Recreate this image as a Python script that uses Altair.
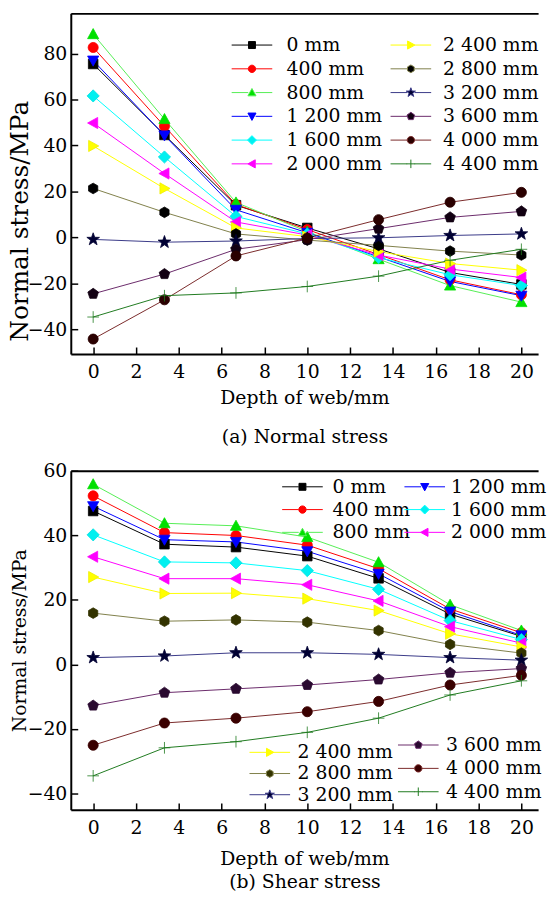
import math
import altair as alt
import pandas as pd

# ---------------- data ----------------
depth = [0, 3.33, 6.67, 10, 13.33, 16.67, 20]
series = ["0 mm", "400 mm", "800 mm", "1 200 mm", "1 600 mm", "2 000 mm",
          "2 400 mm", "2 800 mm", "3 200 mm", "3 600 mm", "4 000 mm", "4 400 mm"]

# (a) normal stress
normal_0 = [75.5, 44.6, 14.0, 4.1, -5.0, -15.3, -20.5]
normal_400 = [82.7, 48.4, 14.3, 3.4, -7.5, -18.5, -25.0]
normal_800 = [88.5, 51.5, 15.2, 2.5, -9.5, -21.0, -28.2]
normal_1200 = [77.0, 44.4, 12.0, 2.0, -8.5, -19.2, -25.4]
normal_1600 = [61.6, 35.0, 9.1, 1.5, -8.8, -16.3, -21.0]
normal_2000 = [49.8, 27.8, 6.7, 1.0, -7.7, -13.8, -17.5]
normal_2400 = [39.8, 21.3, 4.1, 0.3, -6.2, -11.4, -14.3]
normal_2800 = [21.3, 10.9, 1.5, -1.2, -3.5, -6.0, -7.7]
normal_3200 = [-0.9, -2.1, -1.6, -0.5, -0.2, 0.8, 1.5]
normal_3600 = [-24.6, -16.0, -5.2, -1.0, 3.8, 8.7, 11.3]
normal_4000 = [-44.3, -27.2, -8.1, -0.3, 7.7, 15.3, 19.6]
normal_4400 = [-34.7, -25.4, -24.2, -21.4, -16.9, -10.0, -5.2]

# (b) shear stress
shear_0 = [47.6, 37.3, 36.4, 33.6, 26.7, 15.6, 8.7]
shear_400 = [52.3, 40.9, 40.0, 37.0, 29.7, 17.2, 9.8]
shear_800 = [55.9, 43.8, 43.0, 39.5, 31.7, 18.5, 10.5]
shear_1200 = [49.1, 38.7, 38.0, 35.1, 28.1, 16.4, 9.0]
shear_1600 = [40.2, 31.8, 31.5, 29.1, 23.3, 13.6, 7.7]
shear_2000 = [33.4, 26.6, 26.6, 24.7, 19.7, 11.7, 6.6]
shear_2400 = [27.1, 22.0, 22.1, 20.4, 16.7, 9.5, 5.4]
shear_2800 = [15.9, 13.4, 13.8, 13.1, 10.5, 6.2, 3.5]
shear_3200 = [2.1, 2.6, 3.6, 3.6, 3.1, 2.1, 1.3]
shear_3600 = [-12.8, -8.8, -7.6, -6.4, -4.7, -2.6, -1.3]
shear_4000 = [-25.1, -18.2, -16.7, -14.7, -11.5, -6.4, -3.4]
shear_4400 = [-34.6, -25.9, -24.0, -21.1, -16.7, -9.5, -5.1]

normal_lists = [normal_0, normal_400, normal_800, normal_1200, normal_1600, normal_2000,
                normal_2400, normal_2800, normal_3200, normal_3600, normal_4000, normal_4400]
shear_lists = [shear_0, shear_400, shear_800, shear_1200, shear_1600, shear_2000,
               shear_2400, shear_2800, shear_3200, shear_3600, shear_4000, shear_4400]

x_ticks = list(range(0, 21, 2))

# ---------------- styles ----------------
line_colors = ["#000000", "#ff0000", "#55ee55", "#0000ff", "#00ffff", "#ff00ff",
               "#ffff00", "#80804a", "#3a3a88", "#6a2a6a", "#7a2a2a", "#1f7a1f"]
fill_top = ["#000000", "#ff0000", "#00e000", "#0000ff", "#00f0f0", "#ff00ff",
            "#ffff00", "#000000", "#000033", "#120012", "#2a0000", "#1f7a1f"]
fill_bot = ["#000000", "#ff0000", "#00e000", "#0000ff", "#00f0f0", "#ff00ff",
            "#ffff00", "#333300", "#000033", "#2a0a30", "#3a0000", "#1f7a1f"]
stroke_top = ["#000000", "#ff0000", "#00e000", "#0000ff", "#00e0e0", "#ff00ff",
              "#eeee00", "#000000", "#000033", "#120012", "#2a0000", "#1f7a1f"]
stroke_bot = ["#000000", "#ff0000", "#00e000", "#0000ff", "#00e0e0", "#ff00ff",
              "#eeee00", "#333300", "#000033", "#2a0a30", "#3a0000", "#1f7a1f"]


def poly(pts, k):
    return "M" + "L".join(f"{x * k:.3f},{y * k:.3f}" for x, y in pts) + "Z"


def circle(r):
    return (f"M{-r:.3f},0A{r:.3f},{r:.3f},0,1,0,{r:.3f},0"
            f"A{r:.3f},{r:.3f},0,1,0,{-r:.3f},0Z")


def regular(n, r, rot=-90):
    return [(r * math.cos(math.radians(rot + i * 360 / n)),
             r * math.sin(math.radians(rot + i * 360 / n))) for i in range(n)]


def star(ro, ri):
    pts = []
    for i in range(10):
        r = ro if i % 2 == 0 else ri
        a = math.radians(-90 + i * 36)
        pts.append((r * math.cos(a), r * math.sin(a)))
    return pts


shape_makers = [
    lambda k: poly([(-0.9, -0.9), (0.9, -0.9), (0.9, 0.9), (-0.9, 0.9)], k),
    lambda k: circle(0.95 * k),
    lambda k: poly([(0, -1.05), (1.05, 0.85), (-1.05, 0.85)], k),
    lambda k: poly([(0, 1.05), (1.05, -0.85), (-1.05, -0.85)], k),
    lambda k: poly([(0, -1.15), (1.15, 0), (0, 1.15), (-1.15, 0)], k),
    lambda k: poly([(-1.05, 0), (0.85, -1.05), (0.85, 1.05)], k),
    lambda k: poly([(1.05, 0), (-0.85, -1.05), (-0.85, 1.05)], k),
    lambda k: poly(regular(6, 1.0), k),
    lambda k: poly(star(1.25, 0.5), k),
    lambda k: poly(regular(5, 1.05), k),
    lambda k: circle(0.95 * k),
    lambda k: f"M{-1.1 * k:.3f},0H{1.1 * k:.3f}M0,{-1.1 * k:.3f}V{1.1 * k:.3f}",
]
plot_shapes = [m(1.0) for m in shape_makers]
legend_shapes = [m(0.78) + "M-4.1,0H-0.75M0.75,0H4.1" for m in shape_makers]

FONT = "DejaVu Serif"
X_DOMAIN = [-1.045, 20.78]
WIDTH = 472


def make_df(lists):
    rows = []
    for name, vals in zip(series, lists):
        for d, v in zip(depth, vals):
            rows.append({"depth": d, "value": v, "series": name})
    return pd.DataFrame(rows)


def panel(lists, height, ydomain, yticks, ytitle, ytitle_size, ytitle_y,
          xtitle, xtitle_y, line_h, fills, strokes, legends):
    df = make_df(lists)
    xs = alt.Scale(domain=X_DOMAIN, nice=False, zero=False)
    ys = alt.Scale(domain=ydomain, nice=False, zero=False)

    x_main = alt.Axis(values=x_ticks, ticks=False, tickSize=0, domain=True,
                      domainWidth=2, labelFontSize=19, labelPadding=9,
                      labelFlush=False, labelOverlap=False, grid=False,
                      title=xtitle, titleFontSize=19, titleLineHeight=line_h,
                      titleBaseline="alphabetic", titleY=xtitle_y)
    y_main = alt.Axis(values=yticks, ticks=False, tickSize=0, domain=True,
                      domainWidth=2, labelFontSize=19, labelPadding=4,
                      labelFlush=False, labelOverlap=False, grid=False,
                      title=ytitle, titleFontSize=ytitle_size,
                      titleBaseline="middle", titleAlign="center",
                      titleX=-52, titleY=ytitle_y, titleAngle=270)
    x_ticks_ax = alt.Axis(orient="bottom", values=x_ticks, offset=-7, tickSize=7,
                          tickWidth=1.5, domain=False, labels=False, title=None,
                          grid=False)
    y_ticks_ax = alt.Axis(orient="left", values=yticks, offset=-7, tickSize=7,
                          tickWidth=1.5, domain=False, labels=False, title=None,
                          grid=False)
    x_top_ax = alt.Axis(orient="top", domain=True, domainWidth=2, ticks=False,
                        labels=False, title=None, grid=False)

    lines = alt.Chart(df).mark_line(strokeWidth=1).encode(
        x=alt.X("depth:Q", scale=xs, axis=x_main),
        y=alt.Y("value:Q", scale=ys, axis=y_main),
        color=alt.Color("series:N", scale=alt.Scale(domain=series, range=line_colors),
                        legend=None),
    )
    points = alt.Chart(df).mark_point(filled=True, size=115, opacity=1,
                                      strokeWidth=0.8).encode(
        x=alt.X("depth:Q", scale=xs, axis=x_ticks_ax),
        y=alt.Y("value:Q", scale=ys, axis=y_ticks_ax),
        shape=alt.Shape("series:N", scale=alt.Scale(domain=series, range=plot_shapes),
                        legend=None),
        fill=alt.Fill("series:N", scale=alt.Scale(domain=series, range=fills),
                      legend=None),
        stroke=alt.Stroke("series:N", scale=alt.Scale(domain=series, range=strokes),
                          legend=None),
    )
    layers = [lines, points]
    for i, (lo, hi, lx, ly, loff, rpad) in enumerate(legends):
        names = series[lo:hi]
        leg = alt.Legend(orient="none", legendX=lx, legendY=ly, title=None,
                         labelFont=FONT, labelFontSize=19, labelColor="black",
                         labelOffset=loff, rowPadding=rpad, symbolSize=100,
                         symbolStrokeWidth=1, padding=0, labelLimit=0,
                         direction="vertical")
        layer = alt.Chart(df).mark_point(filled=True, size=100, opacity=1,
                                         strokeWidth=1).encode(
            x=alt.X("depth:Q", scale=xs, axis=(x_top_ax if i == 0 else None)),
            y=alt.Y("value:Q", scale=ys, axis=None),
            shape=alt.Shape("series:N", scale=alt.Scale(domain=names,
                                                        range=legend_shapes[lo:hi]),
                            legend=leg),
            fill=alt.Fill("series:N", scale=alt.Scale(domain=names, range=fills[lo:hi]),
                          legend=leg),
            stroke=alt.Stroke("series:N", scale=alt.Scale(domain=names,
                                                          range=line_colors[lo:hi]),
                              legend=leg),
        ).transform_filter("false")
        layers.append(layer)
    return alt.layer(*layers).resolve_scale(
        shape="independent", fill="independent", stroke="independent",
        color="independent"
    ).resolve_axis(x="independent", y="independent").properties(
        width=WIDTH, height=height)


top = panel(normal_lists, 344, [-50.78, 97.55], list(range(-40, 81, 20)),
            "Normal stress/MPa", 25, 209.5,
            ["Depth of web/mm", "(a) Normal stress"], 50, 39,
            fill_top, stroke_top,
            [(0, 6, 173.5, 22.5, 25.5, 4.0), (6, 12, 334, 22.5, 23, 4.0)])

bottom = panel(shear_lists, 342.5, [-45.16, 60.09], list(range(-40, 61, 20)),
               "Normal stress/MPa", 19, 171.25,
               ["Depth of web/mm", "(b) Shear stress"], 55, 23,
               fill_bot, stroke_bot,
               [(0, 3, 224.5, 6.7, 20.8, 3.0), (3, 6, 348, 6.7, 17, 3.0),
                (6, 9, 191.5, 274.9, 18.5, 1.4), (9, 12, 341.5, 267.5, 18.5, 3.6)])

chart = alt.vconcat(top, bottom, spacing=118, bounds="flush").properties(
    padding={"left": 7.5, "top": 9, "right": 0, "bottom": 0},
    background="white",
).configure_view(stroke=None).configure_axis(
    labelFont=FONT, titleFont=FONT, labelColor="black", titleColor="black",
    titleFontWeight="normal", domainColor="black", tickColor="black",
).configure_legend(labelFont=FONT, labelColor="black")

chart.save("out.html", embed_options={"renderer": "svg", "actions": False})
